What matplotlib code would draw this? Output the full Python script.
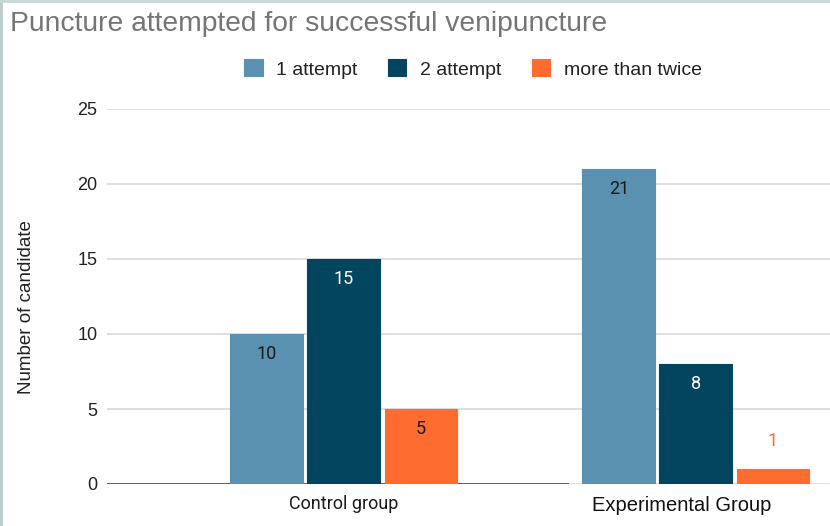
import matplotlib
matplotlib.use("Agg")
import matplotlib.pyplot as plt
import matplotlib.transforms as mtransforms
from matplotlib.lines import Line2D
import numpy as np

groups = ["Control group", "Experimental Group"]
series = ["1 attempt", "2 attempt", "more than twice"]
values = {
    "1 attempt": [10, 21],
    "2 attempt": [15, 8],
    "more than twice": [5, 1],
}
colors = ["#5a91b0", "#03455f", "#ff6c2f"]
yticks = [0, 5, 10, 15, 20, 25]

W, H = 830, 526
fig = plt.figure(figsize=(W / 100, H / 100), dpi=100)
fig.patch.set_facecolor("white")

ax = fig.add_axes([107 / W, 1 - 484 / H, (830 - 107) / W, (484 - 109) / H])
x = np.arange(len(groups))
bw = 0.207
step = 0.219
label_colors = {
    "1 attempt": ["#1a1a1a", "#1a1a1a"],
    "2 attempt": ["#ffffff", "#ffffff"],
    "more than twice": ["#1a1a1a", "#ff6c2f"],
}
for i, s in enumerate(series):
    xs = x + (i - 1) * step
    bars = ax.bar(xs, values[s], width=bw, color=colors[i], label=s, zorder=3,
                  edgecolor=colors[i], linewidth=0.8, joinstyle="round")
    for j, b in enumerate(bars):
        v = values[s][j]
        inside = v >= 3
        ax.annotate(str(v), (b.get_x() + b.get_width() / 2, v),
                    xytext=(0, -14.5 if inside else 20), textcoords="offset points",
                    ha="center", va="center", fontsize=13, family="Roboto",
                    color=label_colors[s][j], zorder=4)

ax.set_xlim(-0.673, 1.381)
ax.set_ylim(0, 25)
ax.set_yticks(yticks)
ax.set_yticklabels([str(t) for t in yticks], fontsize=13, family="Liberation Sans", color="#222222")
ax.tick_params(axis="y", length=0, pad=7)
ax.tick_params(axis="x", length=0, pad=8)
ax.grid(axis="y", color="#d6d6d6", linewidth=1.1, zorder=0)
ax.set_axisbelow(True)
for sp in ax.spines.values():
    sp.set_visible(False)
ax.axhline(0, xmin=0, xmax=(0.636 + 0.673) / (1.381 + 0.673), color="#555555", linewidth=1.3, zorder=2)

ax.set_xticks(x)
ax.set_xticklabels(groups)
tl = ax.get_xticklabels()
tl[0].set_fontfamily("Roboto")
tl[0].set_fontsize(13)
tl[0].set_color("#1a1a1a")
tl[1].set_fontfamily("Liberation Sans")
tl[1].set_fontsize(14.5)
tl[1].set_color("#111111")
tl[1].set_transform(tl[1].get_transform() + mtransforms.ScaledTranslation(-14 / 100, -1 / 100, fig.dpi_scale_trans))

ax.set_ylabel("Number of candidate", fontsize=13.5, family="Liberation Sans", color="#222222")
ax.yaxis.set_label_coords(-0.099, 0.472)

fig.text(10 / W, 1 - 24 / H, "Puncture attempted for successful venipuncture",
         fontsize=20.3, family="Liberation Sans", color="#757575", va="center", ha="left")

leg = fig.legend(loc="center", bbox_to_anchor=(473 / W, 1 - 69 / H), ncol=3, frameon=False,
                 prop={"family": "Liberation Sans", "size": 14}, handlelength=0.95, handleheight=0.95,
                 handletextpad=0.7, columnspacing=1.55)
for t in leg.get_texts():
    t.set_color("#222222")

fig.add_artist(Line2D([1 / W, 1 / W], [0, 1], transform=fig.transFigure, color="#b7ccc9", linewidth=2))
fig.add_artist(Line2D([0, 1], [1 - 1 / H, 1 - 1 / H], transform=fig.transFigure, color="#c8d8d6", linewidth=2))

fig.savefig("out.png", dpi=100)
